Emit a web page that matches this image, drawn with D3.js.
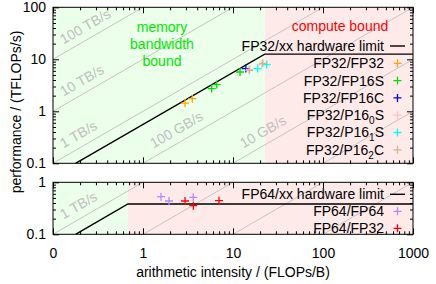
<!DOCTYPE html>
<html>
<head>
<meta charset="utf-8">
<script src="https://cdn.jsdelivr.net/npm/d3@7"></script>
<style>
body { margin: 0; background: #fff; }
svg { display: block; font-family: "Liberation Sans", Arial, sans-serif; font-size: 14px; }
</style>
</head>
<body>
<svg></svg>
<script>
// tick values and labels
let xTicks = [0.1, 1, 10, 100, 1000]
let xTickLabels = ['0', '1', '10', '100', '1000']
let yTopTicks = [0.1, 1, 10, 100]
let yTopTickLabels = ['0.1', '1', '10', '100']
let yBotTicks = [0.1, 1]
let yBotTickLabels = ['0.1', '1']

// memory bandwidth guide lines (TB/s)
let bwLines = [100, 10, 1, 0.1, 0.01, 0.001]
let bwTopLabels = ['100 TB/s', '10 TB/s', '1 TB/s', '100 GB/s', '10 GB/s']
let bwTopLabelValues = [100, 10, 1, 0.1, 0.01]
let bwBotLabels = ['1 TB/s']
let bwBotLabelValues = [1]

// hardware limits (arithmetic intensity, TFLOPs/s)
let fp32Roof = [[0.178, 0.1], [22.5, 12.6], [1000, 12.6]]
let fp64Roof = [[0.178, 0.1], [0.68, 0.383], [1000, 0.383]]

// measured kernels
let fp32Names = ['FP32/FP32', 'FP32/FP16S', 'FP32/FP16C', 'FP32/P16_0S', 'FP32/P16_1S', 'FP32/P16_2C']
let fp32Colors = ['#ffa500', '#00e000', '#0000ff', '#ffc0cb', '#00ffff', '#d2b48c']
let fp32Points = [
    [[2.93, 1.44], [3.53, 1.75]],
    [[5.80, 2.73], [6.59, 3.26], [11.97, 5.70]],
    [[13.9, 6.62]],
    [[15.4, 6.42], [20.8, 7.91]],
    [[18.8, 6.62], [23.7, 7.91]],
    [[15.1, 6.14], [21.5, 8.38]]
]
let fp64Names = ['FP64/FP64', 'FP64/FP32']
let fp64Colors = ['#b388ff', '#ff0000']
let fp64Points = [
    [[1.585, 0.529], [1.945, 0.437], [3.62, 0.515]],
    [[2.93, 0.437], [3.62, 0.355], [6.99, 0.443]]
]

let width = 436
let height = 284
let left = 53
let right = 413

let svg = d3.select('svg')
    .attr('width', width)
    .attr('height', height)

let xScale = d3.scaleLog().domain([0.1, 1000]).range([left, right])

let minorTicks = (lo, hi) => {
    let out = []
    for (let d = lo; d < hi; d *= 10) {
        for (let m = 2; m <= 9; m++) out.push(d * m)
    }
    return out
}

let plus = (x, y, r) => 'M' + (x - r) + ',' + y + 'H' + (x + r) + 'M' + x + ',' + (y - r) + 'V' + (y + r)

let legendText = (sel, name) => {
    let parts = name.split('_')
    sel.append('tspan').text(parts[0])
    if (parts.length > 1) {
        sel.append('tspan').attr('font-size', 10).attr('dy', 4).text(parts[1][0])
        sel.append('tspan').attr('dy', -4).text(parts[1].slice(1))
    }
}

let drawPanel = (p) => {
    let yScale = d3.scaleLog().domain(p.domain).range([p.y1, p.y0])
    let g = svg.append('g')

    g.append('clipPath').attr('id', p.id)
        .append('rect')
        .attr('x', left).attr('y', p.y0)
        .attr('width', right - left).attr('height', p.y1 - p.y0)

    let body = g.append('g').attr('clip-path', 'url(#' + p.id + ')')
    let ridge = p.roof[1][0]

    body.append('rect')
        .attr('x', xScale(0.1)).attr('y', p.y0)
        .attr('width', xScale(ridge) - xScale(0.1)).attr('height', p.y1 - p.y0)
        .attr('fill', '#ebffeb')
    body.append('rect')
        .attr('x', xScale(ridge)).attr('y', p.y0)
        .attr('width', xScale(1000) - xScale(ridge)).attr('height', p.y1 - p.y0)
        .attr('fill', '#ffeaea')

    body.selectAll('.bw')
        .data(bwLines)
        .enter()
        .append('line')
        .attr('x1', xScale(0.1))
        .attr('y1', (bw) => yScale(bw * 0.1))
        .attr('x2', xScale(1000))
        .attr('y2', (bw) => yScale(bw * 1000))
        .attr('stroke', '#c4c4c4')
        .attr('stroke-width', 1)

    let angle = Math.atan2(yScale(0.1) - yScale(1), xScale(1) - xScale(0.1)) * 180 / Math.PI
    body.selectAll('.bwlabel')
        .data(p.bwLabels)
        .enter()
        .append('text')
        .attr('transform', (d, i) => {
            let bw = p.bwValues[i]
            let xe = Math.max(0.1, p.domain[0] / bw) * 1.44
            return 'translate(' + xScale(xe) + ',' + yScale(bw * xe) + ') rotate(' + (-angle) + ')'
        })
        .attr('dy', -7.5)
        .attr('fill', '#c0c0c0')
        .text((d) => d)

    let line = d3.line().x((d) => xScale(d[0])).y((d) => yScale(d[1]))
    body.append('path')
        .attr('d', line(p.roof))
        .attr('fill', 'none')
        .attr('stroke', '#000')
        .attr('stroke-width', 1.4)

    p.points.forEach((pts, i) => {
        body.selectAll('.pt' + i)
            .data(pts)
            .enter()
            .append('path')
            .attr('d', (d) => plus(xScale(d[0]), yScale(d[1]), 4))
            .attr('stroke', p.colors[i])
            .attr('stroke-width', 1.3)
    })

    // legend
    let rows = [p.roofName].concat(p.names)
    rows.forEach((name, i) => {
        let y = p.legendY + i * p.legendStep
        let t = g.append('text')
            .attr('x', 384).attr('y', y).attr('dy', '0.35em')
            .attr('text-anchor', 'end')
            .attr('fill', '#000')
        legendText(t, name)
        if (i === 0) {
            g.append('line')
                .attr('x1', 390).attr('x2', 405).attr('y1', y).attr('y2', y)
                .attr('stroke', '#000').attr('stroke-width', 1.4)
        } else {
            g.append('path')
                .attr('d', plus(397.5, y, 4))
                .attr('stroke', p.colors[i - 1])
                .attr('stroke-width', 1.3)
        }
    })

    // axes: major and minor ticks on all four sides, pointing inwards
    let fix = (a) => a.attr('font-size', 14).attr('font-family', null).select('.domain').remove()
    let yMinor = minorTicks(p.domain[0], p.domain[1])
    let xMinor = minorTicks(0.1, 1000)

    g.append('g').attr('transform', 'translate(' + left + ',0)')
        .call(d3.axisLeft(yScale).tickValues(p.yTicks).tickFormat((d, i) => p.yTickLabels[i]).tickSize(-6).tickPadding(7))
        .call(fix)
    g.append('g').attr('transform', 'translate(' + left + ',0)')
        .call(d3.axisLeft(yScale).tickValues(yMinor).tickFormat('').tickSize(-3))
        .call(fix)
    g.append('g').attr('transform', 'translate(' + right + ',0)')
        .call(d3.axisRight(yScale).tickValues(p.yTicks).tickFormat('').tickSize(-6))
        .call(fix)
    g.append('g').attr('transform', 'translate(' + right + ',0)')
        .call(d3.axisRight(yScale).tickValues(yMinor).tickFormat('').tickSize(-3))
        .call(fix)
    g.append('g').attr('transform', 'translate(0,' + p.y0 + ')')
        .call(d3.axisTop(xScale).tickValues(xTicks).tickFormat('').tickSize(-6))
        .call(fix)
    g.append('g').attr('transform', 'translate(0,' + p.y0 + ')')
        .call(d3.axisTop(xScale).tickValues(xMinor).tickFormat('').tickSize(-3))
        .call(fix)
    g.append('g').attr('transform', 'translate(0,' + p.y1 + ')')
        .call(d3.axisBottom(xScale).tickValues(xTicks)
            .tickFormat((d, i) => p.xLabels ? xTickLabels[i] : '').tickSize(-6).tickPadding(14))
        .call(fix)
    g.append('g').attr('transform', 'translate(0,' + p.y1 + ')')
        .call(d3.axisBottom(xScale).tickValues(xMinor).tickFormat('').tickSize(-3))
        .call(fix)

    g.append('rect')
        .attr('x', left).attr('y', p.y0)
        .attr('width', right - left).attr('height', p.y1 - p.y0)
        .attr('fill', 'none')
        .attr('stroke', '#000')
        .attr('stroke-width', 1)
}

drawPanel({
    id: 'clipTop', y0: 7.3, y1: 163.3, domain: [0.1, 100],
    yTicks: yTopTicks, yTickLabels: yTopTickLabels,
    bwLabels: bwTopLabels, bwValues: bwTopLabelValues,
    roof: fp32Roof, roofName: 'FP32/xx hardware limit',
    names: fp32Names, colors: fp32Colors, points: fp32Points,
    legendY: 46, legendStep: 17.3, xLabels: false
})

drawPanel({
    id: 'clipBot', y0: 182.3, y1: 234.3, domain: [0.1, 1],
    yTicks: yBotTicks, yTickLabels: yBotTickLabels,
    bwLabels: bwBotLabels, bwValues: bwBotLabelValues,
    roof: fp64Roof, roofName: 'FP64/xx hardware limit',
    names: fp64Names, colors: fp64Colors, points: fp64Points,
    legendY: 194.3, legendStep: 17, xLabels: true
})

// region annotations
svg.append('text')
    .attr('x', 162).attr('text-anchor', 'middle').attr('fill', '#00e600')
    .selectAll('tspan')
    .data(['memory', 'bandwidth', 'bound'])
    .enter()
    .append('tspan')
    .attr('x', 162)
    .attr('y', (d, i) => 27 + i * 16.8)
    .attr('dy', '0.35em')
    .text((d) => d)

svg.append('text')
    .attr('x', 340).attr('y', 26).attr('dy', '0.35em')
    .attr('text-anchor', 'middle').attr('fill', '#ff0000')
    .text('compute bound')

// axis titles
svg.append('text')
    .attr('x', 233).attr('y', 272).attr('dy', '0.35em')
    .attr('text-anchor', 'middle')
    .text('arithmetic intensity / (FLOPs/B)')

svg.append('text')
    .attr('transform', 'translate(16,112) rotate(-90)')
    .attr('dy', '0.35em')
    .attr('text-anchor', 'middle')
    .text('performance / (TFLOPs/s)')
</script>
</body>
</html>
